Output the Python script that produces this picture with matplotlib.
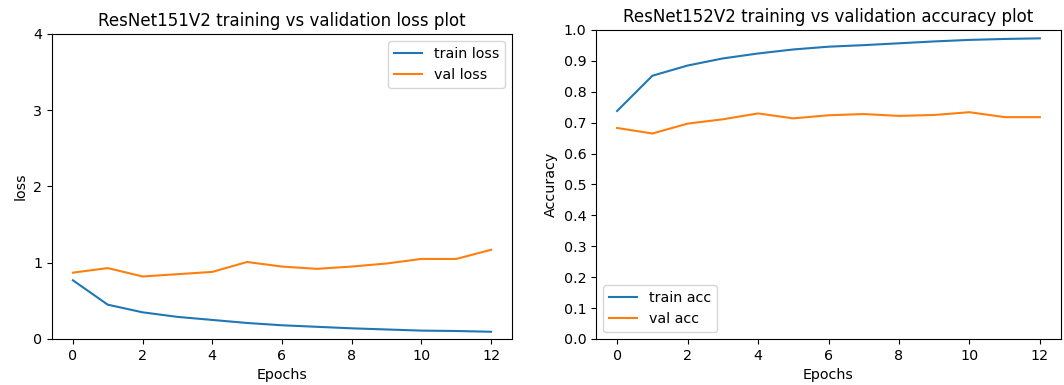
import matplotlib
matplotlib.use("Agg")
import matplotlib.pyplot as plt

# Werte
epochs = list(range(13))
train_loss = [0.77, 0.45, 0.35, 0.29, 0.25, 0.21, 0.18, 0.16, 0.14, 0.125, 0.11, 0.105, 0.095]
val_loss = [0.87, 0.93, 0.82, 0.85, 0.88, 1.01, 0.95, 0.92, 0.95, 0.99, 1.05, 1.05, 1.17]
train_acc = [0.738, 0.852, 0.885, 0.908, 0.924, 0.937, 0.946, 0.951, 0.957, 0.963, 0.968, 0.971, 0.973]
val_acc = [0.683, 0.665, 0.697, 0.711, 0.730, 0.714, 0.724, 0.728, 0.722, 0.725, 0.734, 0.718, 0.718]

plt.rcParams['font.size'] = 10.3

fig = plt.figure(figsize=(10.64, 3.85), dpi=100)
W, H = 1064, 385

# Verlust-Diagramm
ax1 = fig.add_axes([52 / W, 46 / H, (512 - 52) / W, (339 - 34) / H])
ax1.plot(epochs, train_loss, label='train loss')
ax1.plot(epochs, val_loss, label='val loss')
ax1.set_ylim(0, 4)
ax1.set_yticks([0, 1, 2, 3, 4])
ax1.set_xticks(range(0, 13, 2))
ax1.set_title("ResNet151V2 training vs validation loss plot", fontsize=12)
ax1.set_xlabel("Epochs")
ax1.set_ylabel("loss")
ax1.legend(loc='upper right')

# Genauigkeits-Diagramm
ax2 = fig.add_axes([596 / W, 46 / H, (1061 - 596) / W, (339 - 30) / H])
ax2.plot(epochs, train_acc, label='train acc')
ax2.plot(epochs, val_acc, label='val acc')
ax2.set_ylim(0, 1)
ax2.set_yticks([i / 10 for i in range(11)])
ax2.set_xticks(range(0, 13, 2))
ax2.set_title("ResNet152V2 training vs validation accuracy plot", fontsize=12)
ax2.set_xlabel("Epochs")
ax2.set_ylabel("Accuracy")
ax2.legend(loc='lower left')

fig.savefig("out.png", dpi=100)
